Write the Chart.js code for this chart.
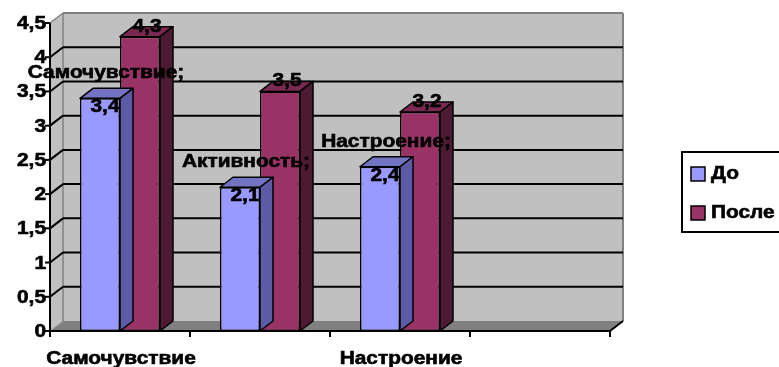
<!DOCTYPE html>
<html><head><meta charset="utf-8">
<script src="https://cdn.jsdelivr.net/npm/chart.js@4/dist/chart.umd.min.js"></script>
<style>html,body{margin:0;padding:0;background:#fff}#wrap{width:779px;height:367px;position:relative}</style>
</head><body><div id="wrap"><canvas id="c" width="779" height="367"></canvas></div>
<script>
const categories = ['Самочувствие', 'Активность', 'Настроение', ''];
const seriesNames = ['До', 'После'];
const valuesBefore = [3.4, 2.1, 2.4, null];
const valuesAfter = [4.3, 3.5, 3.2, null];
const yMin = 0, yMax = 4.5, yStep = 0.5;

const DX = 13, DY = -10, SX = 1.16;
const FONT = 'bold 18px "Liberation Sans", "DejaVu Sans", sans-serif';
const faces = [
  {front: '#9999FF', top: '#7373C2', side: '#5C5CA6'},
  {front: '#993366', top: '#7A2952', side: '#4D1A33'}
];

function stext(ctx, s, x, y, align) {
  ctx.save(); ctx.translate(x, y); ctx.scale(SX, 1);
  ctx.textAlign = align; ctx.textBaseline = 'middle';
  ctx.fillText(s, 0, 0);
  ctx.strokeStyle = ctx.fillStyle; ctx.lineWidth = 0.6; ctx.strokeText(s, 0, 0);
  ctx.restore();
}
function poly(ctx, pts, fill, stroke, lw) {
  ctx.beginPath(); ctx.moveTo(pts[0][0], pts[0][1]);
  for (let i = 1; i < pts.length; i++) ctx.lineTo(pts[i][0], pts[i][1]);
  ctx.closePath();
  if (fill) { ctx.fillStyle = fill; ctx.fill(); }
  if (stroke) { ctx.strokeStyle = stroke; ctx.lineWidth = lw || 1; ctx.stroke(); }
}
function line(ctx, x1, y1, x2, y2, c, w) {
  ctx.beginPath(); ctx.moveTo(x1, y1); ctx.lineTo(x2, y2);
  ctx.strokeStyle = c; ctx.lineWidth = w; ctx.stroke();
}
const fmt = v => String(v).replace('.', ',');

const deco = {
  id: 'deco',
  beforeDatasetsDraw(chart) {
    const ctx = chart.ctx, a = chart.chartArea, ys = chart.scales.y;
    const L = a.left, R = a.right, T = a.top, B = a.bottom;
    ctx.save();
    poly(ctx, [[L + DX, T + DY], [R + DX, T + DY], [R + DX, B + DY], [L + DX, B + DY]], '#C0C0C0');
    poly(ctx, [[L, T], [L + DX, T + DY], [L + DX, B + DY], [L, B]], '#C0C0C0');
    poly(ctx, [[L, B], [R, B], [R + DX, B + DY], [L + DX, B + DY]], '#808080');
    line(ctx, L + DX, T + DY, R + DX, T + DY, '#808080', 2);
    line(ctx, R + DX, T + DY, R + DX, B + DY, '#808080', 2);
    line(ctx, L + DX, T + DY, L + DX, B + DY, '#808080', 1.5);
    line(ctx, L, T, L + DX, T + DY, '#808080', 1.5);
    line(ctx, L, B, L + DX, B + DY, '#A0A0A0', 1);
    ys.ticks.forEach(t => {
      const y = ys.getPixelForValue(t.value);
      if (t.value > yMin && t.value < yMax) {
        line(ctx, L, y, L + DX, y + DY, '#000', 2);
        line(ctx, L + DX, y + DY, R + DX, y + DY, '#000', 2);
      }
      line(ctx, L - 5, y, L, y, '#000', 2);
    });
    line(ctx, L, T, L, B + 1, '#000', 2);
    line(ctx, L - 1, B, R, B, '#000', 2);
    line(ctx, R, B, R + DX, B + DY, '#000', 2);
    const n = categories.length, cw = (R - L) / n;
    for (let i = 0; i <= n; i++) line(ctx, L + i * cw, B, L + i * cw, B + 6, '#000', 2);
    ctx.restore();
  },
  afterDatasetDraw(chart, args) {
    const ctx = chart.ctx, f = faces[args.index];
    const meta = chart.getDatasetMeta(args.index);
    ctx.save(); ctx.lineJoin = 'round';
    meta.data.forEach((bar, i) => {
      const v = chart.data.datasets[args.index].data[i];
      if (v == null) return;
      const p = bar.getProps(['x', 'y', 'base', 'width'], true);
      const l = p.x - p.width / 2, r = p.x + p.width / 2, t = p.y, b = p.base;
      poly(ctx, [[l, t], [r, t], [r + DX, t + DY], [l + DX, t + DY]], f.top, '#000', 1.5);
      poly(ctx, [[r, t], [r + DX, t + DY], [r + DX, b + DY], [r, b]], f.side, '#000', 1.5);
    });
    ctx.restore();
  },
  afterDraw(chart) {
    const ctx = chart.ctx, a = chart.chartArea, ys = chart.scales.y, xs = chart.scales.x;
    ctx.save();
    ctx.fillStyle = '#000'; ctx.font = FONT;
    ys.ticks.forEach(t => stext(ctx, fmt(t.value), a.left - 4, ys.getPixelForValue(t.value) + 1, 'right'));
    categories.forEach((c, i) => { if (i % 2 === 0 && c) stext(ctx, c, xs.getPixelForValue(i) + 1, 359, 'center'); });
    chart.data.datasets.forEach((ds, di) => {
      chart.getDatasetMeta(di).data.forEach((bar, i) => {
        const v = ds.data[i];
        if (v == null) return;
        const p = bar.getProps(['x', 'y'], true);
        if (di === 0) {
          stext(ctx, categories[i] + ';', p.x + 6, p.y - 25, 'center');
          stext(ctx, fmt(v), p.x + 5, p.y + 9, 'center');
        } else {
          stext(ctx, fmt(v), p.x + 7, p.y - 10, 'center');
        }
      });
    });
    ctx.strokeStyle = '#000'; ctx.lineWidth = 2;
    ctx.strokeRect(682, 152, 120, 80);
    const ly = [174, 213];
    chart.data.datasets.forEach((ds, di) => {
      ctx.fillStyle = faces[di].front;
      ctx.fillRect(691, ly[di] - 7, 14, 14);
      ctx.strokeStyle = '#000'; ctx.lineWidth = 1.5; ctx.strokeRect(691, ly[di] - 7, 14, 14);
      ctx.fillStyle = '#000';
      stext(ctx, ds.label, 711, ly[di], 'left');
    });
    ctx.restore();
  }
};

new Chart(document.getElementById('c'), {
  type: 'bar',
  data: {
    labels: categories,
    datasets: [
      {label: seriesNames[0], data: valuesBefore, backgroundColor: faces[0].front, borderColor: '#000', borderWidth: 1.5, borderSkipped: false},
      {label: seriesNames[1], data: valuesAfter, backgroundColor: faces[1].front, borderColor: '#000', borderWidth: 1.5, borderSkipped: false}
    ]
  },
  options: {
    responsive: false, animation: false,
    layout: {padding: {left: 50, right: 169, top: 23, bottom: 36}},
    categoryPercentage: 80 / 140, barPercentage: 1,
    plugins: {legend: {display: false}, tooltip: {enabled: false}},
    scales: {
      x: {grid: {display: false, drawTicks: false}, border: {display: false}, ticks: {display: false}},
      y: {min: yMin, max: yMax, grid: {display: false, drawTicks: false}, border: {display: false},
          ticks: {display: false, stepSize: yStep}}
    }
  },
  plugins: [deco]
});
</script></body></html>
